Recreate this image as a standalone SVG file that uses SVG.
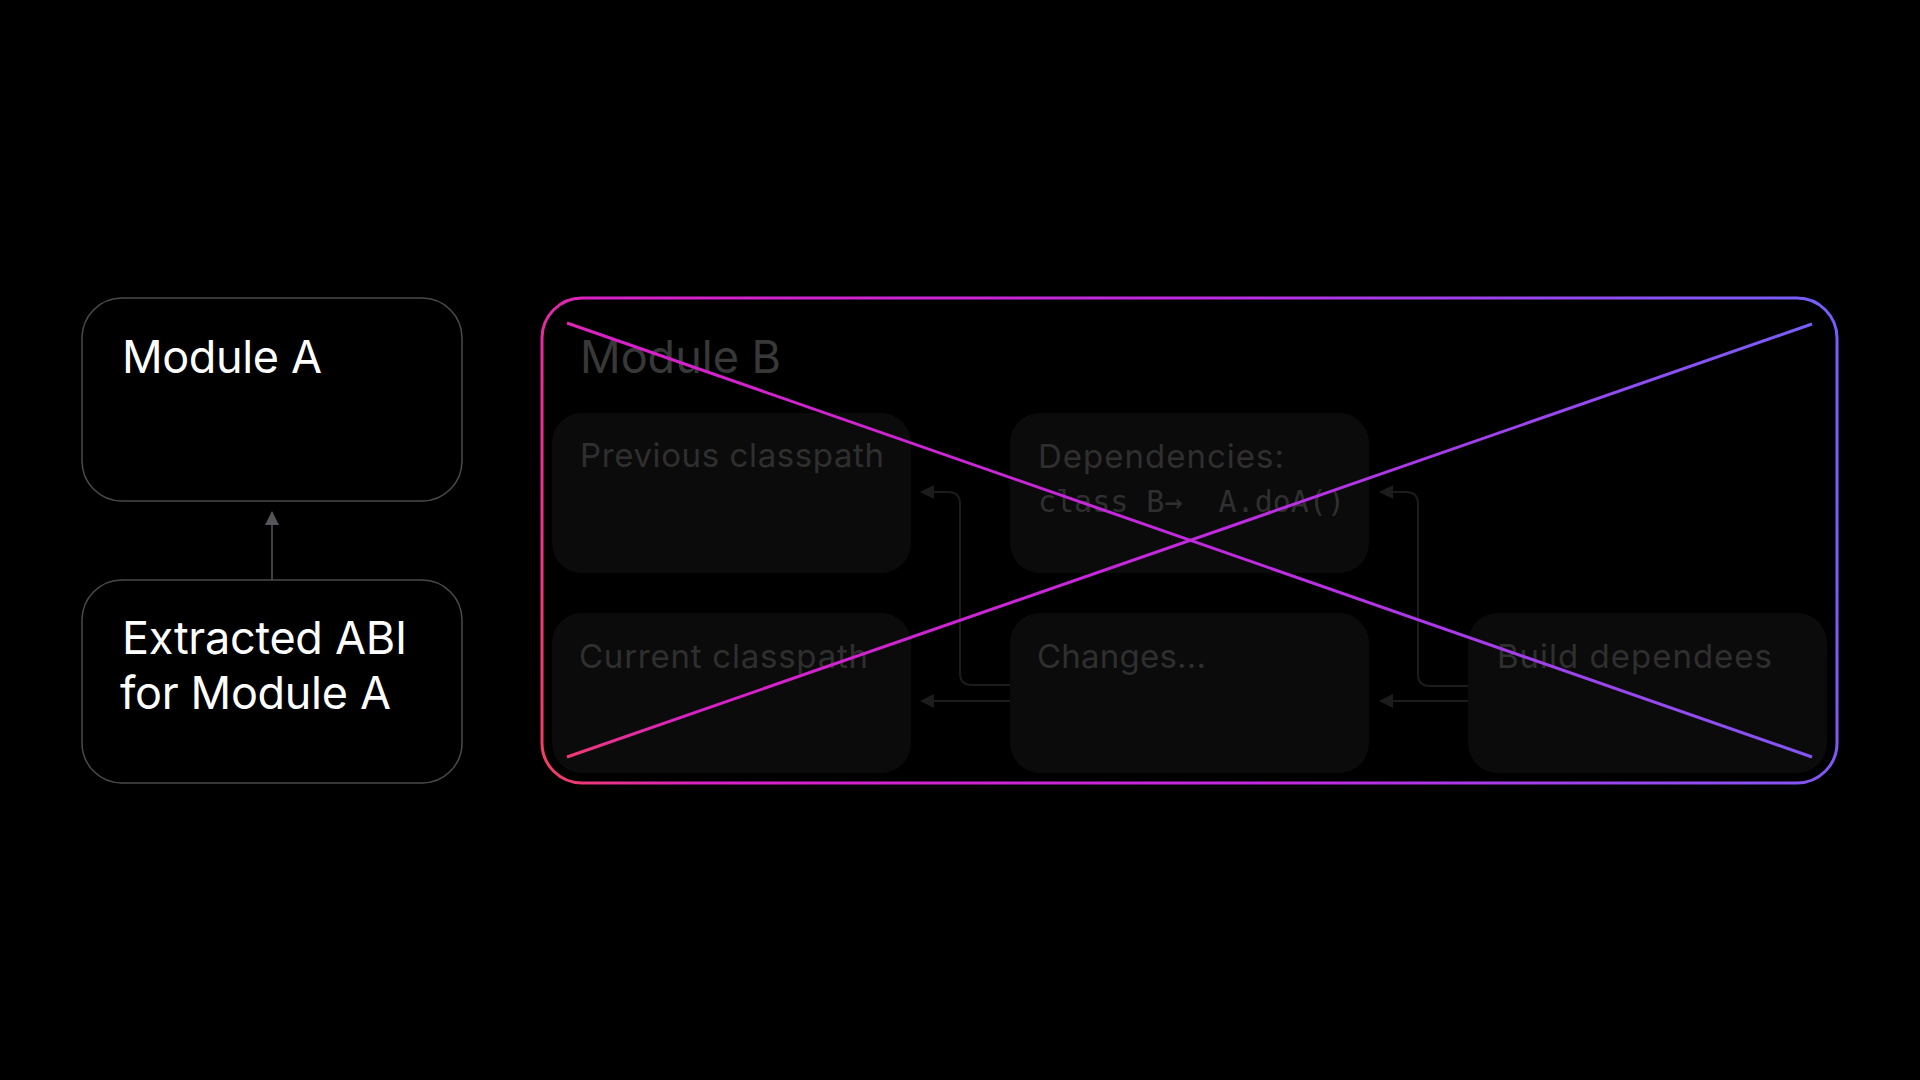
<svg xmlns="http://www.w3.org/2000/svg" width="1920" height="1080" viewBox="0 0 1920 1080">
<defs>
<style>
.outer{fill:#000;stroke:#4a4a4a;stroke-width:1.5}
.title{font-family:Inter,"Noto Sans",sans-serif;font-size:45px;fill:#ffffff}
.inner{fill:#0b0b0b}
.dim{font-family:Inter,"Noto Sans",sans-serif;font-size:33px;fill:#2f2f2f}
.mono{font-family:"DejaVu Sans Mono","Liberation Mono",monospace;font-size:30px;fill:#2f2f2f}
.conn{fill:none;stroke:#1c1c1c;stroke-width:2}
</style>
<linearGradient id="g" gradientUnits="userSpaceOnUse" x1="542" y1="783" x2="1837" y2="500">
<stop offset="0" stop-color="#f5405e"/>
<stop offset="0.12" stop-color="#d820c8"/>
<stop offset="0.55" stop-color="#c02ae0"/>
<stop offset="1" stop-color="#7a5cf8"/>
</linearGradient>
<marker id="ah" viewBox="0 0 14 14" refX="13" refY="7" markerWidth="14" markerHeight="14" markerUnits="userSpaceOnUse" orient="auto">
<path d="M0,0 L14,7 L0,14 Z" fill="#1c1c1c"/>
</marker>
<marker id="ahA" viewBox="0 0 14 14" refX="13" refY="7" markerWidth="14" markerHeight="14" markerUnits="userSpaceOnUse" orient="auto">
<path d="M0,0 L14,7 L0,14 Z" fill="#55565a"/>
</marker>
</defs>
<rect width="1920" height="1080" fill="#000"/>

<g id="connectors">
<line x1="272" y1="580" x2="272" y2="512" stroke="#55565a" stroke-width="1.5" marker-end="url(#ahA)"/>
<path class="conn" d="M1010,685 H972 Q960,685 960,673 V504 Q960,492 948,492 H921" marker-end="url(#ah)"/>
<path class="conn" d="M1010,701 H921" marker-end="url(#ah)"/>
<path class="conn" d="M1468,686 H1430 Q1418,686 1418,674 V504 Q1418,492 1406,492 H1380" marker-end="url(#ah)"/>
<path class="conn" d="M1468,701 H1380" marker-end="url(#ah)"/>
</g>

<g id="module-a">
<rect class="outer" x="82" y="298" width="380" height="203" rx="40"/>
<text class="title" x="122" y="373" textLength="200" lengthAdjust="spacing">Module A</text>
</g>

<g id="extracted-abi">
<rect class="outer" x="82" y="580" width="380" height="203" rx="40"/>
<text class="title" x="122" y="654" textLength="285" lengthAdjust="spacing">Extracted ABI</text>
<text class="title" x="120" y="709" textLength="271" lengthAdjust="spacing">for Module A</text>
</g>

<g id="module-b">
<rect x="542" y="298" width="1295" height="485" rx="40" fill="none" stroke="url(#g)" stroke-width="3"/>
<text x="580" y="373" font-family="Inter,'Noto Sans',sans-serif" font-size="45" fill="#383838" textLength="201" lengthAdjust="spacing">Module B</text>
</g>

<g id="previous-classpath">
<rect class="inner" x="552" y="413" width="359" height="160" rx="30"/>
<text class="dim" x="580" y="467" textLength="304" lengthAdjust="spacing">Previous classpath</text>
</g>

<g id="current-classpath">
<rect class="inner" x="552" y="613" width="359" height="160" rx="30"/>
<text class="dim" x="579" y="668" textLength="289" lengthAdjust="spacing">Current classpath</text>
</g>

<g id="dependencies">
<rect class="inner" x="1010" y="413" width="359" height="160" rx="30"/>
<text class="dim" x="1038" y="468" textLength="246" lengthAdjust="spacing">Dependencies:</text>
<text class="mono" x="1038" y="512">class B→<tspan dx="18"> A.doA()</tspan></text>
</g>

<g id="changes">
<rect class="inner" x="1010" y="613" width="359" height="160" rx="30"/>
<text class="dim" x="1037" y="668" textLength="169" lengthAdjust="spacing">Changes...</text>
</g>

<g id="build-dependees">
<rect class="inner" x="1468" y="613" width="359" height="160" rx="30"/>
<text class="dim" x="1497" y="668" textLength="275" lengthAdjust="spacing">Build dependees</text>
</g>

<g id="cross">
<line x1="567" y1="323" x2="1812" y2="757" stroke="url(#g)" stroke-width="3"/>
<line x1="567" y1="757" x2="1812" y2="324" stroke="url(#g)" stroke-width="3"/>
</g>
</svg>
